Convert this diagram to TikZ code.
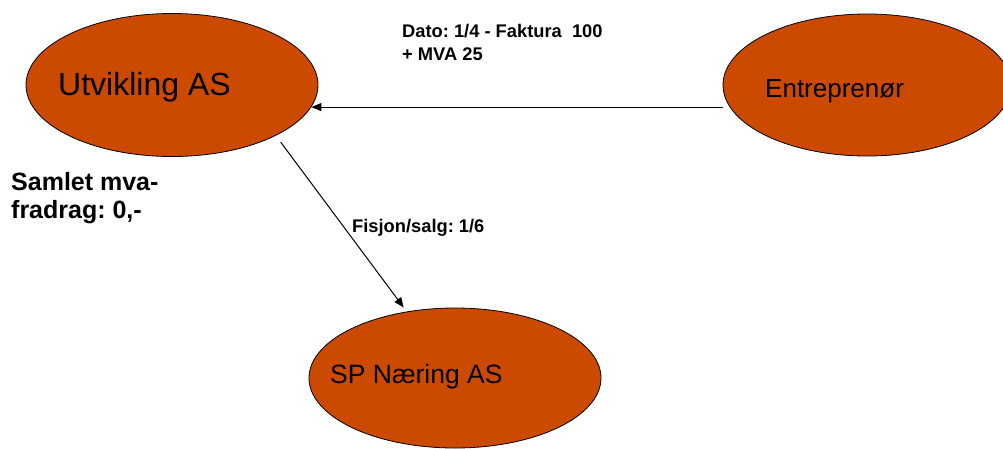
\documentclass[tikz,border=0pt]{standalone}
\usepackage{fontspec}
\setmainfont{Liberation Sans}
\usetikzlibrary{arrows.meta,shapes.geometric}
\definecolor{firmfill}{RGB}{204,74,0}
\frenchspacing

\begin{document}
\begin{tikzpicture}[
		x=1pt,y=-1pt,
		firm/.style={ellipse,draw=black,line width=0.8pt,fill=firmfill,inner sep=0pt},
		flow/.style={-{Triangle[length=10pt,width=8pt]},line width=1pt},
		firmlab/.style={font=\fontsize{26}{30}\selectfont,anchor=base west,inner sep=0pt},
		notelab/.style={font=\bfseries\fontsize{18.3}{23}\selectfont,anchor=base west,inner sep=0pt,align=left},
		sumlab/.style={font=\bfseries\fontsize{25}{28}\selectfont,anchor=base west,inner sep=0pt,align=left}
		]
		% ===== Canvas (1003 x 448) =====
		\useasboundingbox (0,0) rectangle (1003,448);
		\clip (0,0) rectangle (1003,448);
		% ===== Companies =====
		\node[firm,minimum width=292pt,minimum height=143pt] (utv) at (172,85) {};
		\node[firm,minimum width=288pt,minimum height=142pt] (entr) at (867,85) {};
		\node[firm,minimum width=292pt,minimum height=140pt] (spn) at (455,378) {};
		\node[firmlab,font=\fontsize{32}{36}\selectfont] (utvtext) at (58,95) {Utvikling AS};
		\node[firmlab] (entrtext) at (765,97) {Entreprenør};
		\node[firmlab,font=\fontsize{26.5}{30}\selectfont] (spntext) at (330,383) {SP Næring AS};
		% ===== Invoice: Entreprenør -> Utvikling AS =====
		\draw[flow] (utv.351 -| entr.west) -- (utv.351);
		\node[notelab] (invoice) at (402,60) {Dato: 1/4 - Faktura\ \ 100\\+ MVA 25};
		% ===== Split/sale: Utvikling AS -> SP Næring AS =====
		\draw[flow,shorten <=8pt,shorten >=5pt] (utv.-26) -- (spn.126);
		\node[notelab] (split) at (352,232) {Fisjon/salg: 1/6};
		% ===== Deduction =====
		\node[sumlab] (deduction) at (11,218) {Samlet mva-\\fradrag: 0,-};
	\end{tikzpicture}
\end{document}
